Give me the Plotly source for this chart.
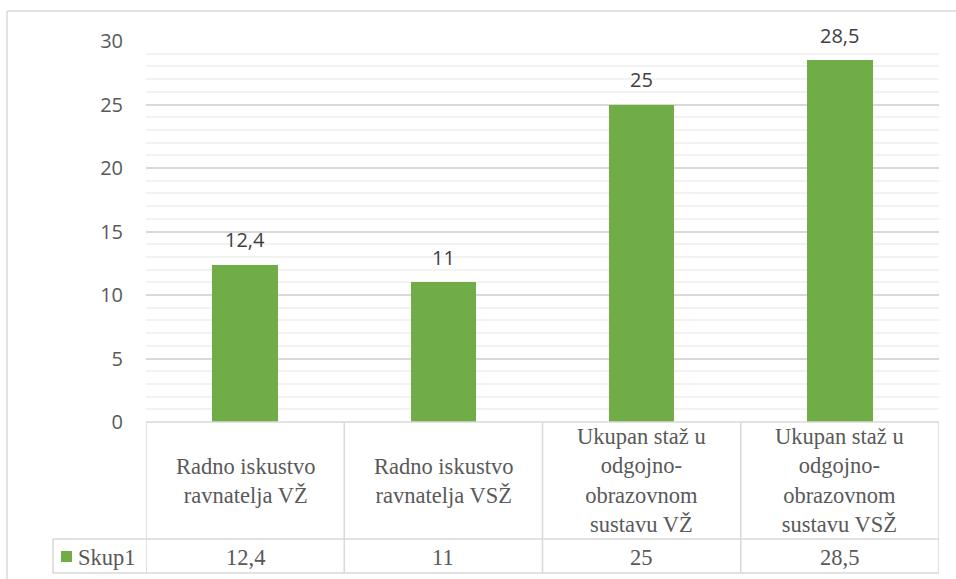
import plotly.graph_objects as go

categories = [
    "Radno iskustvo<br>ravnatelja VŽ",
    "Radno iskustvo<br>ravnatelja VSŽ",
    "Ukupan staž u<br>odgojno-<br>obrazovnom<br>sustavu VŽ",
    "Ukupan staž u<br>odgojno-<br>obrazovnom<br>sustavu VSŽ",
]
values = [12.4, 11, 25, 28.5]
series_name = "Skup1"
y_ticks = [0, 5, 10, 15, 20, 25, 30]

BAR = "#70AD47"
GRID = "#D9D9D9"
MINOR = "#F2F2F2"
TXT = "#595959"

W, H = 956, 579
L, R, T, B = 146, 17, 41, 157
PW = W - L - R
PH = H - T - B


def px_x(px):
    return (px - L) / PW


def px_y(py):
    return (H - B - py) / PH


def fmt(v):
    s = ("%g" % v)
    return s.replace(".", ",")


xs = list(range(len(categories)))

fig = go.Figure()
fig.add_trace(go.Bar(
    x=xs, y=values, width=0.33, marker=dict(color=BAR, line=dict(width=0)),
    name=series_name, showlegend=False, hoverinfo="skip",
))

annotations = []
for i, v in enumerate(values):
    annotations.append(dict(x=i, y=v, xref="x", yref="y", text=fmt(v), showarrow=False,
                            yanchor="middle", yshift=25,
                            font=dict(family="Open Sans", size=20, color="#404040")))
    annotations.append(dict(x=i, y=px_y(480.5), xref="x", yref="paper", text=categories[i],
                            showarrow=False, yanchor="middle", align="center",
                            font=dict(family="Liberation Serif", size=22.5, color=TXT)))
    annotations.append(dict(x=i, y=px_y(557), xref="x", yref="paper", text=fmt(v),
                            showarrow=False, yanchor="middle",
                            font=dict(family="Liberation Serif", size=22.5, color=TXT)))
annotations.append(dict(x=px_x(76), y=px_y(557), xref="paper", yref="paper", text=series_name,
                        showarrow=False, xanchor="left", yanchor="middle",
                        font=dict(family="Liberation Serif", size=22.5, color=TXT)))

shapes = []
lw = 1.5
# vertical table lines at category boundaries
for b in [-0.5, 0.5, 1.5, 2.5, 3.5]:
    shapes.append(dict(type="line", xref="x", yref="paper", x0=b, x1=b, y0=0, y1=px_y(573),
                       line=dict(color=GRID, width=lw)))
# table horizontals
for py in [539, 573]:
    shapes.append(dict(type="line", xref="paper", yref="paper", x0=px_x(53), x1=1, y0=px_y(py), y1=px_y(py),
                       line=dict(color=GRID, width=lw)))
shapes.append(dict(type="line", xref="paper", yref="paper", x0=px_x(53), x1=px_x(53), y0=px_y(539), y1=px_y(573),
                   line=dict(color=GRID, width=lw)))
shapes.append(dict(type="line", xref="paper", yref="paper", x0=0, x1=1, y0=0, y1=0,
                   line=dict(color=GRID, width=lw)))
# legend key
shapes.append(dict(type="rect", xref="paper", yref="paper", x0=px_x(61), x1=px_x(72), y0=px_y(551), y1=px_y(562),
                   fillcolor=BAR, line=dict(width=0)))
# outer chart border
shapes.append(dict(type="line", xref="paper", yref="paper", x0=px_x(7), x1=px_x(970), y0=px_y(11), y1=px_y(11),
                   line=dict(color=GRID, width=lw)))
shapes.append(dict(type="line", xref="paper", yref="paper", x0=px_x(7), x1=px_x(7), y0=px_y(11), y1=px_y(600),
                   line=dict(color=GRID, width=lw)))

fig.update_layout(
    width=W, height=H,
    margin=dict(l=L, r=R, t=T, b=B),
    paper_bgcolor="white", plot_bgcolor="white",
    annotations=annotations, shapes=shapes,
    bargap=0,
    xaxis=dict(range=[-0.5, 3.5], showticklabels=False, showgrid=False, zeroline=False,
               showline=False, ticks=""),
    yaxis=dict(range=[0, 30], tickvals=y_ticks, ticktext=[str(t) for t in y_ticks],
               showgrid=True, gridcolor=GRID, gridwidth=1.5, zeroline=False, showline=False,
               ticks="", ticklabelstandoff=22,
               tickfont=dict(family="Open Sans", size=20, color=TXT),
               minor=dict(dtick=1, showgrid=True, gridcolor=MINOR, gridwidth=1.5)),
)

fig.write_html("out.html", config={"displayModeBar": False},
               post_script="document.body.style.margin='0';document.body.style.overflow='hidden';")
